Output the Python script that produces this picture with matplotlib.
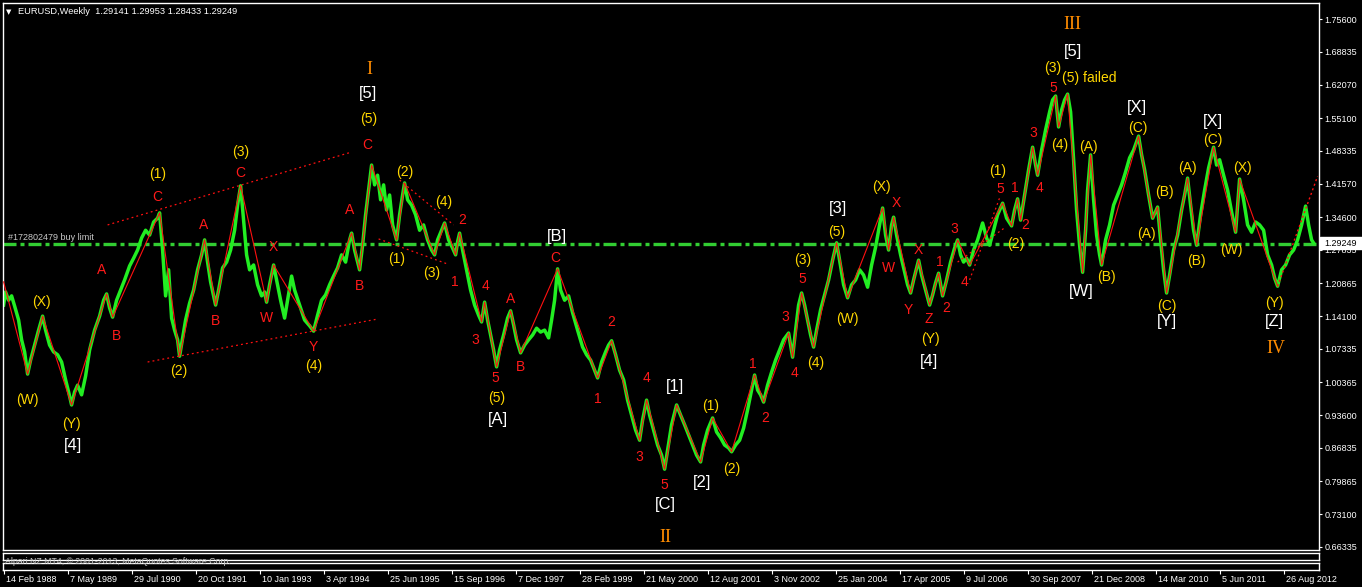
import matplotlib.pyplot as plt
from matplotlib.transforms import ScaledTranslation
from matplotlib.patches import Rectangle

# Weekly EURUSD, x = bar index counted from the 14 Feb 1988 bar
price_week = [0, 2, 5, 8, 11, 15, 18, 21, 24, 27, 31, 35, 39, 42, 46, 50, 54, 58, 62, 65, 68,
              71, 74, 78, 82, 86, 91, 96, 100, 103, 106, 109, 113, 117, 121, 126, 130, 134, 138, 142, 146, 150, 154, 156,
              159, 162, 165, 168, 171, 174, 176, 179, 182, 186, 190, 194, 198, 201, 204, 207, 210, 212, 215, 219, 223, 227, 231, 234, 237,
              240, 243, 246, 250, 254, 258, 261, 263, 266, 270, 273, 277, 281, 284, 288, 291, 296, 301, 306, 310, 314, 318, 322, 326, 330,
              334, 338, 342, 346, 348, 351, 354, 356, 359, 362, 365, 368,
              371, 374, 377, 380, 383, 386, 389, 393, 396, 399, 401, 404, 408, 412, 416, 420, 424, 428, 431, 434, 438, 441, 445, 449,
              452, 454, 456, 459, 463, 467, 471, 475, 478, 481, 484, 487, 490, 493,
              496, 500, 504, 507, 510, 513, 517, 521, 525, 529, 533, 537, 541, 545, 548, 551, 554,
              557, 561, 565, 569, 574, 579, 583, 587, 591, 594, 598, 602, 605, 608, 612, 616, 620, 624, 628, 632, 636, 639, 643, 646,
              650, 654, 658, 661,
              664, 668, 673, 677, 681, 685, 689, 693, 697, 700, 704, 709, 713, 717, 721, 725, 728, 732, 736, 740, 744, 748, 751,
              754, 757, 760, 764, 768, 772, 776, 780, 785, 787, 789, 792, 795, 798, 801, 804, 807, 810, 813, 817, 821, 825, 829, 833,
              836, 840, 844, 848, 852, 856, 860, 864, 868, 872, 876, 879, 882, 885, 888, 890, 893, 897, 901, 904, 907, 910, 913, 915,
              918, 922, 926,
              929, 932, 935, 937, 939, 943, 947, 951, 954, 957, 960, 963, 966, 970, 974, 979, 983, 986, 990, 994, 999, 1003, 1008,
              1011, 1014, 1017, 1021, 1025, 1029, 1032, 1034, 1038, 1042, 1046, 1049, 1052, 1055, 1058, 1061, 1064,
              1067, 1070, 1073, 1076, 1079, 1082, 1084, 1087, 1090, 1093, 1096, 1098, 1102, 1106, 1110, 1114, 1118, 1122, 1126, 1130,
              1135, 1138, 1141, 1145, 1149, 1154, 1157, 1160, 1163,
              1166, 1170, 1174, 1178, 1181, 1184, 1187, 1190, 1193, 1197, 1201, 1205, 1210, 1213, 1216, 1220, 1224, 1228, 1232, 1236,
              1240, 1244, 1248, 1252, 1256, 1260, 1264, 1268, 1271, 1274,
              1278, 1282, 1286, 1290, 1294, 1298, 1302, 1305, 1308, 1310]
price_close = [1.164, 1.191, 1.174, 1.183, 1.162, 1.133, 1.092, 1.067, 1.021, 1.050, 1.081, 1.112, 1.141, 1.112, 1.081, 1.067, 1.061, 1.046, 1.009, 0.984, 0.957,
               0.984, 0.998, 0.978, 1.017, 1.071, 1.112, 1.141, 1.174, 1.187, 1.158, 1.139, 1.174, 1.195, 1.216, 1.245, 1.261, 1.278, 1.303, 1.319, 1.309, 1.336, 1.344, 1.355,
               1.278, 1.183, 1.237, 1.137, 1.112, 1.092, 1.058, 1.096, 1.133, 1.168, 1.195, 1.237, 1.268, 1.299, 1.253, 1.212, 1.183, 1.164, 1.195, 1.241, 1.253, 1.278, 1.319, 1.371, 1.411,
               1.340, 1.268, 1.237, 1.247, 1.206, 1.183, 1.191, 1.170, 1.206, 1.247, 1.216, 1.174, 1.137, 1.174, 1.224, 1.195, 1.164, 1.133, 1.121, 1.110, 1.143, 1.174, 1.185, 1.206, 1.224,
               1.241, 1.268, 1.253, 1.299, 1.313, 1.278, 1.253, 1.237, 1.288, 1.351, 1.402, 1.454,
               1.413, 1.433, 1.382, 1.413, 1.361, 1.392, 1.330, 1.299, 1.351, 1.392, 1.417, 1.382, 1.371, 1.351, 1.319, 1.330, 1.299, 1.278, 1.268, 1.299, 1.319, 1.334, 1.299, 1.282,
               1.268, 1.295, 1.313, 1.278, 1.237, 1.195, 1.164, 1.143, 1.129, 1.170, 1.133, 1.102, 1.071, 1.036,
               1.071, 1.102, 1.137, 1.152, 1.123, 1.092, 1.065, 1.081, 1.092, 1.102, 1.116, 1.108, 1.112, 1.096, 1.133, 1.174, 1.239,
               1.195, 1.174, 1.183, 1.148, 1.112, 1.077, 1.061, 1.050, 1.029, 1.013, 1.046, 1.067, 1.081, 1.090, 1.061, 1.029, 1.009, 0.967, 0.936, 0.905, 0.884, 0.926, 0.967, 0.936,
               0.905, 0.874, 0.853, 0.824,
               0.864, 0.916, 0.957, 0.936, 0.916, 0.895, 0.874, 0.853, 0.839, 0.874, 0.905, 0.930, 0.901, 0.889, 0.874, 0.868, 0.860, 0.874, 0.884, 0.909, 0.947, 0.988, 1.019,
               0.988, 0.978, 0.963, 0.998, 1.025, 1.050, 1.071, 1.092, 1.106, 1.081, 1.056, 1.112, 1.164, 1.189, 1.164, 1.133, 1.102, 1.077, 1.112, 1.154, 1.185, 1.216, 1.257, 1.293,
               1.257, 1.206, 1.179, 1.206, 1.216, 1.237, 1.226, 1.201, 1.247, 1.284, 1.330, 1.365, 1.309, 1.278, 1.330, 1.346, 1.309, 1.268, 1.232, 1.206, 1.189, 1.216, 1.241, 1.257,
               1.226, 1.195, 1.164,
               1.185, 1.210, 1.230, 1.206, 1.183, 1.216, 1.253, 1.282, 1.299, 1.268, 1.253, 1.261, 1.247, 1.278, 1.299, 1.334, 1.303, 1.288, 1.319, 1.351, 1.375, 1.344, 1.328,
               1.361, 1.384, 1.340, 1.392, 1.444, 1.491, 1.454, 1.433, 1.485, 1.527, 1.564, 1.589, 1.597, 1.533, 1.568, 1.589, 1.601,
               1.564, 1.465, 1.361, 1.288, 1.232, 1.319, 1.402, 1.475, 1.382, 1.309, 1.268, 1.247, 1.299, 1.330, 1.371, 1.392, 1.413, 1.440, 1.469, 1.485,
               1.514, 1.475, 1.444, 1.392, 1.344, 1.367, 1.299, 1.237, 1.189,
               1.226, 1.278, 1.309, 1.361, 1.392, 1.427, 1.371, 1.319, 1.288, 1.351, 1.402, 1.448, 1.491, 1.454, 1.465, 1.433, 1.402, 1.357, 1.315, 1.425,
               1.382, 1.330, 1.315, 1.336, 1.330, 1.319, 1.268, 1.247, 1.220, 1.203,
               1.237, 1.247, 1.268, 1.278, 1.299, 1.330, 1.369, 1.330, 1.299, 1.2925]

# Elliott wave count (pivots joined by the red line)
wave_week = [0, 24, 39, 68, 103, 109, 156, 176, 201, 212, 237, 263, 270, 310, 348, 356, 368, 393, 401, 431, 441, 452, 456,
             478, 481, 493, 507, 517, 554, 594, 608, 636, 643, 661, 673, 697, 709, 728, 751, 760, 785, 789, 798, 810, 833,
             844, 879, 885, 890, 907, 915, 926, 935, 939, 954, 966, 999, 1008, 1014, 1017, 1029, 1034, 1052, 1055, 1064,
             1079, 1087, 1098, 1135, 1149, 1154, 1163, 1184, 1193, 1210, 1232, 1236, 1274]
wave_price = [1.212, 1.021, 1.141, 0.957, 1.187, 1.139, 1.355, 1.058, 1.299, 1.164, 1.411, 1.170, 1.247, 1.110, 1.313, 1.237,
              1.454, 1.299, 1.417, 1.268, 1.334, 1.268, 1.313, 1.129, 1.170, 1.036, 1.152, 1.065, 1.239, 1.013, 1.090, 0.884,
              0.967, 0.824, 0.957, 0.839, 0.930, 0.860, 1.019, 0.963, 1.106, 1.056, 1.189, 1.077, 1.293, 1.179, 1.365, 1.278,
              1.346, 1.189, 1.257, 1.164, 1.230, 1.183, 1.299, 1.247, 1.375, 1.328, 1.384, 1.340, 1.491, 1.433, 1.597, 1.533,
              1.601, 1.232, 1.475, 1.247, 1.514, 1.344, 1.367, 1.189, 1.427, 1.288, 1.491, 1.315, 1.425, 1.203]
projection_week = [1274, 1314]
projection_price = [1.203, 1.431]

# dotted channel lines: (week1, price1, week2, price2)
channel_lines = [(104, 1.330, 348, 1.481),
                 (144, 1.046, 374, 1.135),
                 (396, 1.423, 450, 1.330),
                 (375, 1.301, 444, 1.249),
                 (966, 1.216, 996, 1.386),
                 (954, 1.253, 1001, 1.324)]

red_labels = [("A", 98, 1.237), ("B", 113, 1.100), ("C", 154, 1.388), ("A", 200, 1.330), ("B", 212, 1.131),
              ("C", 237, 1.438), ("W", 263, 1.137), ("X", 270, 1.284), ("Y", 310, 1.077), ("A", 346, 1.361),
              ("B", 356, 1.203), ("C", 364, 1.496), ("2", 459, 1.340), ("1", 451, 1.212), ("4", 482, 1.203),
              ("3", 472, 1.092), ("5", 492, 1.013), ("A", 507, 1.177), ("B", 517, 1.036), ("C", 552, 1.261),
              ("1", 594, 0.969), ("2", 608, 1.129), ("3", 636, 0.849), ("4", 643, 1.013), ("5", 661, 0.791),
              ("1", 749, 1.042), ("2", 762, 0.930), ("3", 782, 1.139), ("4", 791, 1.023), ("5", 799, 1.218),
              ("W", 885, 1.241), ("X", 893, 1.375), ("Y", 905, 1.154), ("X", 915, 1.278), ("Z", 925, 1.135),
              ("1", 936, 1.253), ("2", 943, 1.158), ("3", 951, 1.322), ("4", 961, 1.212), ("5", 997, 1.404),
              ("1", 1011, 1.407), ("2", 1022, 1.330), ("3", 1030, 1.520), ("4", 1036, 1.407), ("5", 1050, 1.614)]
gold_labels = [("(W)", 24, 0.967), ("(X)", 38, 1.170), ("(Y)", 68, 0.918), ("(1)", 154, 1.436), ("(2)", 175, 1.027),
               ("(3)", 237, 1.481), ("(4)", 310, 1.038), ("(5)", 365, 1.549), ("(2)", 401, 1.440), ("(1)", 393, 1.259),
               ("(3)", 428, 1.230), ("(4)", 440, 1.378), ("(5)", 493, 0.971), ("(1)", 707, 0.955), ("(2)", 728, 0.824),
               ("(3)", 799, 1.257), ("(4)", 812, 1.044), ("(5)", 833, 1.315), ("(W)", 844, 1.135), ("(X)", 878, 1.409),
               ("(Y)", 927, 1.094), ("(1)", 994, 1.442), ("(2)", 1012, 1.290), ("(3)", 1049, 1.655), ("(4)", 1056, 1.496),
               ("(5) failed", 1086, 1.634), ("(A)", 1085, 1.491), ("(B)", 1103, 1.222), ("(C)", 1134, 1.531),
               ("(B)", 1161, 1.398), ("(A)", 1143, 1.311), ("(C)", 1163, 1.162), ("(A)", 1184, 1.448), ("(B)", 1193, 1.255),
               ("(C)", 1209, 1.506), ("(W)", 1228, 1.278), ("(X)", 1239, 1.448), ("(Y)", 1271, 1.168)]
white_labels = [("[4]", 69, 0.874), ("[5]", 364, 1.603), ("[A]", 494, 0.926), ("[B]", 553, 1.307), ("[C]", 662, 0.750),
                ("[1]", 671, 0.996), ("[2]", 698, 0.797), ("[3]", 834, 1.363), ("[4]", 925, 1.048), ("[5]", 1069, 1.690),
                ("[W]", 1078, 1.193), ("[X]", 1133, 1.574), ("[Y]", 1163, 1.129), ("[X]", 1209, 1.545), ("[Z]", 1271, 1.129)]
roman_labels = [("I", 366, 1.651), ("II", 662, 0.683), ("III", 1069, 1.746), ("IV", 1272, 1.073)]

order_price = 1.2915
last_price = "1.29249"
price_ticks = [1.75600, 1.68835, 1.62070, 1.55100, 1.48335, 1.41570, 1.34600, 1.27835, 1.20865,
               1.14100, 1.07335, 1.00365, 0.93600, 0.86835, 0.79865, 0.73100, 0.66335]
date_ticks = [0, 64, 128, 192, 256, 320, 384, 448, 512, 576, 640, 704, 768, 832, 896, 960, 1024, 1088, 1152, 1216, 1280]
date_labels = ["14 Feb 1988", "7 May 1989", "29 Jul 1990", "20 Oct 1991", "10 Jan 1993", "3 Apr 1994", "25 Jun 1995",
               "15 Sep 1996", "7 Dec 1997", "28 Feb 1999", "21 May 2000", "12 Aug 2001", "3 Nov 2002", "25 Jan 2004",
               "17 Apr 2005", "9 Jul 2006", "30 Sep 2007", "21 Dec 2008", "14 Mar 2010", "5 Jun 2011", "26 Aug 2012"]

plt.rcParams['font.family'] = ['Liberation Sans', 'DejaVu Sans']

W, H = 1362, 587
fig = plt.figure(figsize=(W / 100, H / 100), dpi=100, facecolor='black')

# main chart window
ax = fig.add_axes([3 / W, 1 - 550 / H, 1316 / W, 547 / H], facecolor='black')
ax.set_xlim(-0.6, 1315.4)
ax.set_ylim(0.6565, 1.7898)

ax.plot([-1, 1314], [order_price, order_price], color='#32cd32', lw=2.4,
        dashes=(3.9, 1.2, 1.2, 1.2), dash_capstyle='butt', zorder=1)
ax.plot(price_week, price_close, color='#22ee22', lw=2.5, zorder=2)
ax.plot(wave_week, wave_price, color='#ff1010', lw=0.8, zorder=3)
ax.plot(projection_week, projection_price, color='#ff1010', lw=1.0, ls=(0, (1.5, 2)), zorder=3)
for w1, p1, w2, p2 in channel_lines:
    ax.plot([w1, w2], [p1, p2], color='#ff1010', lw=0.9, ls=(0, (1.5, 2.5)), zorder=3)

for txt, w, p in red_labels:
    ax.text(w, p, txt, color='#ff1a1a', fontsize=10, ha='center', va='center', zorder=5)
for txt, w, p in gold_labels:
    ax.text(w, p, txt, color='#ffd700', fontsize=10, ha='center', va='center', zorder=5)
for txt, w, p in white_labels:
    ax.text(w, p, txt, color='white', fontsize=12, ha='center', va='center', zorder=5)
for txt, w, p in roman_labels:
    ax.text(w, p, txt, color='#ff8c00', fontsize=13, ha='center', va='center',
            family='Liberation Serif', zorder=5)

ax.text(4, order_price + 0.004, "#172802479 buy limit", color='#c8c8c8', fontsize=6.5,
        ha='left', va='bottom', zorder=4)

for s in ax.spines.values():
    s.set_color('white')
    s.set_linewidth(1)
ax.set_xticks([])
ax.yaxis.tick_right()
ax.set_yticks(price_ticks)
ax.set_yticklabels([f"{v:.5f}" for v in price_ticks])
ax.tick_params(axis='y', colors='white', labelsize=6.5, length=2.5, width=0.8, pad=1.5)

# two empty indicator sub-windows
box1 = fig.add_axes([3 / W, 1 - 560 / H, 1316 / W, 7.5 / H], facecolor='black')
box2 = fig.add_axes([3 / W, 1 - 569.5 / H, 1316 / W, 7 / H], facecolor='black')
for b in (box1, box2):
    b.set_xlim(-0.6, 1315.4)
    b.set_yticks([])
    for s in b.spines.values():
        s.set_color('white')
        s.set_linewidth(1)
box1.set_xticks([])
box2.set_xticks(date_ticks)
box2.set_xticklabels(date_labels)
box2.tick_params(axis='x', colors='white', labelsize=6.5, length=3, width=0.8, pad=1)
for lab in box2.get_xticklabels():
    lab.set_ha('left')
    lab.set_transform(lab.get_transform() + ScaledTranslation(2 / 100, 0, fig.dpi_scale_trans))

# header, copyright and last price tag
fig.text(9 / W, 1 - 12 / H, "\u25bc", color='white', fontsize=5, family='DejaVu Sans',
         ha='center', va='center')
fig.text(18 / W, 1 - 12 / H, "EURUSD,Weekly  1.29141 1.29953 1.28433 1.29249", color='white',
         fontsize=6.7, ha='left', va='center')
fig.text(5 / W, 1 - 562 / H, "Alpari NZ MT4, \u00a9 2001-2013, MetaQuotes Software Corp.",
         color='#c8c8c8', fontsize=6.3, ha='left', va='center', zorder=12)
fig.patches.append(Rectangle((1320 / W, 1 - 249 / H), 42 / W, 12 / H, transform=fig.transFigure,
                             facecolor='white', edgecolor='white', zorder=10))
fig.text(1341 / W, 1 - 243 / H, last_price, color='black', fontsize=6.5, ha='center', va='center', zorder=11)

fig.savefig("out.png", dpi=100, facecolor='black')
